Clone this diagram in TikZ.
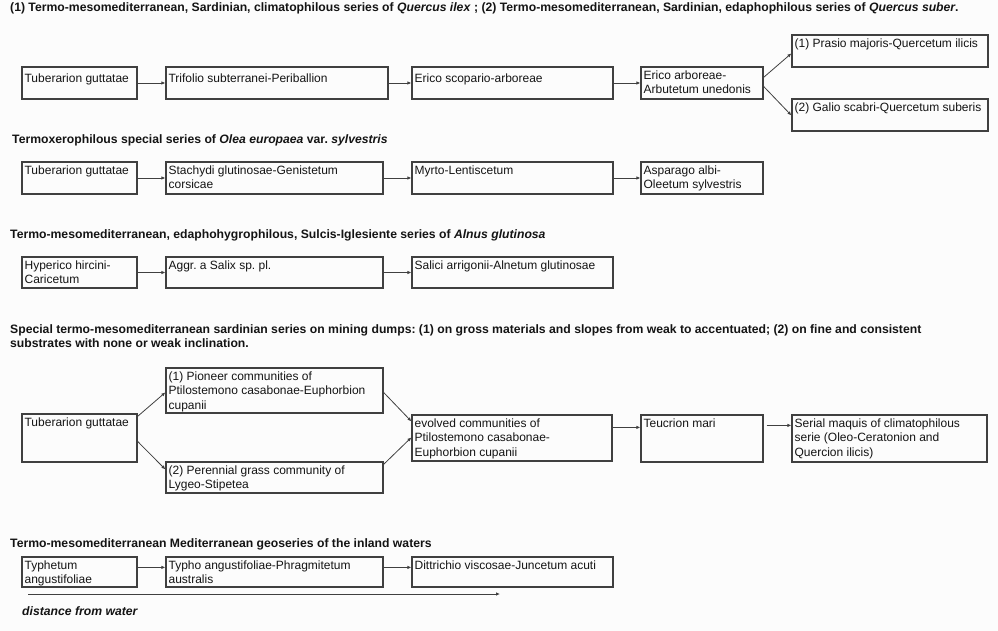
\documentclass[tikz,border=0pt]{standalone}
\usepackage{fontspec}
\setmainfont{Liberation Sans}
\usetikzlibrary{arrows.meta,fit}
\frenchspacing
\newcommand\bx[7]{%
  \node[box, fit={(#2,#3)(#4,#5)}] (#1) {};
  \node[txt, anchor=north west] (#1t) at ([xshift=3pt,yshift=-#6pt]#1.north west) {#7};}
\begin{document}
\begin{tikzpicture}[x=1pt,y=-1pt,
  box/.style={draw=black!75, line width=1.2pt, inner sep=0pt, rectangle},
  txt/.style={inner sep=0pt, align=left, font=\fontsize{12}{14.5}\selectfont\frenchspacing, text=black!92},
  ttl/.style={inner sep=0pt, anchor=base west, font=\fontsize{12.2}{14}\selectfont\bfseries\frenchspacing, text=black!92},
  conn/.style={draw=black!75, line width=0.8pt, -{Latex[length=4pt,width=3.5pt]}}]
\path[use as bounding box, fill=black!1] (0,0) rectangle (998,631);

% ---------- series 1
\node[ttl] (t1) at (10,12) {(1) Termo-mesomediterranean, Sardinian, climatophilous series of \textit{Quercus ilex} ; (2) Termo-mesomediterranean, Sardinian, edaphophilous series of \textit{Quercus suber}.};
\bx{a1}{22}{67}{137}{99}{7}{Tuberarion guttatae}
\bx{b1}{166}{67}{388}{99}{7}{Trifolio subterranei-Periballion}
\bx{c1}{412}{67}{613}{99}{7}{Erico scopario-arboreae}
\bx{d1}{641}{67}{763}{99}{4}{Erico arboreae-\\Arbutetum unedonis}
\bx{e1}{792}{35}{988}{67}{4}{(1) Prasio majoris-Quercetum ilicis}
\bx{f1}{792}{99}{988}{131}{4}{(2) Galio scabri-Quercetum suberis}
\draw[conn] (a1.east) -- (b1.west);
\draw[conn] (b1.east) -- (c1.west);
\draw[conn] (c1.east) -- (d1.west);
\draw[conn] ([yshift=-11pt]d1.north east) -- ([yshift=-19pt]e1.north west);
\draw[conn] ([yshift=-20pt]d1.north east) -- ([yshift=-17pt]f1.north west);

% ---------- series 2
\node[ttl] (t2) at (12,144) {Termoxerophilous special series of \textit{Olea europaea} var. \textit{sylvestris}};
\bx{a2}{22}{162}{137}{194}{4}{Tuberarion guttatae}
\bx{b2}{166}{162}{383}{194}{4}{Stachydi glutinosae-Genistetum\\corsicae}
\bx{c2}{412}{162}{613}{194}{4}{Myrto-Lentiscetum}
\bx{d2}{641}{162}{763}{194}{4}{Asparago albi-\\Oleetum sylvestris}
\draw[conn] (a2.east) -- (b2.west);
\draw[conn] (b2.east) -- (c2.west);
\draw[conn] (c2.east) -- (d2.west);

% ---------- series 3
\node[ttl] (t3) at (10,238) {Termo-mesomediterranean, edaphohygrophilous, Sulcis-Iglesiente series of \textit{Alnus glutinosa}};
\bx{a3}{22}{257}{137}{288}{4}{Hyperico hircini-\\Caricetum}
\bx{b3}{166}{257}{383}{288}{4}{Aggr. a Salix sp. pl.}
\bx{c3}{412}{257}{613}{288}{4}{Salici arrigonii-Alnetum glutinosae}
\draw[conn] (a3.east) -- (b3.west);
\draw[conn] (b3.east) -- (c3.west);

% ---------- series 4
\node[ttl] (t4) at (10,333) {Special termo-mesomediterranean sardinian series on mining dumps: (1) on gross materials and slopes from weak to accentuated; (2) on fine and consistent};
\node[ttl] (t4b) at (10,347) {substrates with none or weak inclination.};
\bx{a4}{22}{414}{137}{462}{4}{Tuberarion guttatae}
\bx{b4}{166}{368}{383}{413}{4}{(1) Pioneer communities of\\Ptilostemono casabonae-Euphorbion\\cupanii}
\bx{c4}{166}{462}{383}{493}{4}{(2) Perennial grass community of\\Lygeo-Stipetea}
\bx{d4}{412}{415}{612}{461}{4}{evolved communities of\\Ptilostemono casabonae-\\Euphorbion cupanii}
\bx{e4}{641}{415}{763}{462}{4}{Teucrion mari}
\bx{f4}{792}{415}{987}{462}{4}{Serial maquis of climatophilous\\serie (Oleo-Ceratonion and\\Quercion ilicis)}
\draw[conn] ([yshift=-3pt]a4.north east) -- ([yshift=-25pt]b4.north west);
\draw[conn] ([yshift=-28pt]a4.north east) -- ([yshift=-8pt]c4.north west);
\draw[conn] ([yshift=-25pt]b4.north east) -- ([yshift=-7pt]d4.north west);
\draw[conn] ([yshift=-3pt]c4.north east) -- ([yshift=-23pt]d4.north west);
\draw[conn] ([yshift=-13pt]d4.north east) -- ([yshift=-13pt]e4.north west);
\draw[conn] ([xshift=3pt,yshift=-11pt]e4.north east) -- ([yshift=-11pt]f4.north west);

% ---------- series 5
\node[ttl] (t5) at (10,547) {Termo-mesomediterranean Mediterranean geoseries of the inland waters};
\bx{a5}{22}{557}{137}{587}{4}{Typhetum\\angustifoliae}
\bx{b5}{166}{557}{383}{587}{4}{Typho angustifoliae-Phragmitetum\\australis}
\bx{c5}{412}{557}{613}{587}{4}{Dittrichio viscosae-Juncetum acuti}
\draw[conn] ([yshift=-11pt]a5.north east) -- ([yshift=-11pt]b5.north west);
\draw[conn] ([yshift=-11pt]b5.north east) -- ([yshift=-11pt]c5.north west);
\coordinate (ds) at (28,594);
\coordinate (de) at (500,594);
\draw[conn] (ds) -- (de);
\node[ttl, font=\fontsize{12.2}{14}\selectfont\bfseries\itshape] (dist) at (22,615) {distance from water};
\end{tikzpicture}
\end{document}
